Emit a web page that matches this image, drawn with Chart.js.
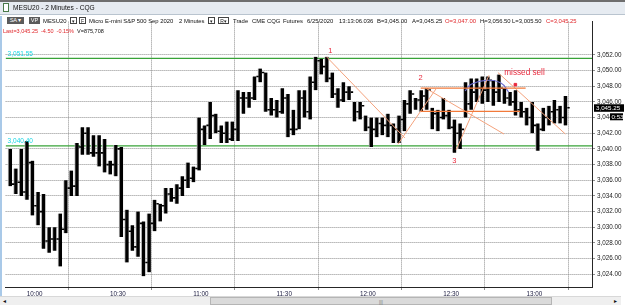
<!DOCTYPE html>
<html><head><meta charset="utf-8">
<script src="https://cdn.jsdelivr.net/npm/chart.js@4.4.1/dist/chart.umd.min.js"></script>
<style>
body{margin:0;width:625px;height:307px;overflow:hidden;background:#fff;font-family:"Liberation Sans",Arial,sans-serif;position:relative}
#wrap{position:absolute;left:0;top:16px;width:625px;height:291px}
.t{position:absolute;font-size:5.9px;white-space:nowrap;color:#111;line-height:8px;z-index:5}
.red{color:#e0262a}
.box{position:absolute;height:7px;line-height:7px;font-size:5.6px;text-align:center;z-index:5;box-sizing:border-box}
.dark{background:#5b5b5b;color:#fff}
.dd{border:1px solid #444;background:#fff;color:#222;font-size:5px}
#row3{position:absolute;left:3px;top:27px;font-size:5.5px;line-height:8px;white-space:nowrap;z-index:5;color:#111}
#row3 span{margin-right:3px}
#titlebar{position:absolute;left:0;top:0;width:625px;height:15px;background:#e6ebf1;border-top:2px solid #6e6e6e;box-sizing:border-box;border-bottom:1px solid #b9c4cf;z-index:4}
#leftstrip{position:absolute;left:0;top:16px;width:2px;height:280px;background:#a9c9e8;z-index:4}
#scroll{position:absolute;left:0;top:296px;width:621px;height:9px;background:#efefef;border-top:1px solid #d8d8d8;box-sizing:border-box;z-index:4}
#thumb{position:absolute;left:210px;top:0px;width:342px;height:8px;background:#dadada;border:1px solid #b5b5b5;box-sizing:border-box}
</style></head>
<body>
<div id="wrap"><canvas id="c" width="625" height="291"></canvas></div>
<div id="titlebar"></div>
<div class="box" style="left:3px;top:3px;width:6px;height:9px;border:1px solid #4a7a4a;background:#fff;z-index:6"></div>
<div class="t" style="left:13px;top:3.5px;font-size:6.6px;z-index:6">MESU20 - 2 Minutes - CQG</div>
<div id="leftstrip"></div>

<div class="box dark" style="left:7px;top:17px;width:17px">SA ▾</div>
<div class="box dark" style="left:29px;top:17px;width:11px">VP</div>
<div class="t" style="left:43px;top:16.5px">MESU20</div>
<div class="box dd" style="left:70px;top:17px;width:7px">▾</div>
<div class="box dd" style="left:79px;top:17px;width:7px">F</div>
<div class="t" style="left:89px;top:16.5px">Micro E-mini S&amp;P 500 Sep 2020</div>
<div class="t" style="left:179px;top:16.5px">2 Minutes</div>
<div class="box dd" style="left:208px;top:17px;width:7px">▾</div>
<div class="box dd" style="left:218px;top:17px;width:11px">R▾</div>
<div class="t" style="left:233px;top:16.5px">Trade</div>
<div class="t" style="left:252px;top:16.5px">CME</div>
<div class="t" style="left:267px;top:16.5px">CQG</div>
<div class="t" style="left:283px;top:16.5px">Futures</div>
<div class="t" style="left:307px;top:16.5px">6/25/2020</div>
<div class="t" style="left:339px;top:16.5px">13:13:06.036</div>
<div class="t" style="left:377px;top:16.5px">B=3,045.00</div>
<div class="t" style="left:412px;top:16.5px">A=3,045.25</div>
<div class="t red" style="left:445px;top:16.5px">O=3,047.00</div>
<div class="t" style="left:480px;top:16.5px">H=3,056.50</div>
<div class="t" style="left:512px;top:16.5px">L=3,005.50</div>
<div class="t red" style="left:546px;top:16.5px">C=3,045.25</div>

<div id="row3"><span class="red">Last=3,045.25</span><span class="red">-4.50</span><span class="red">-0.15%</span><span>V=875,708</span></div>

<div id="scroll"><div class="t" style="left:3px;top:0px;font-size:6px">◂</div><div id="thumb"><div class="t" style="left:168px;top:0px;font-size:5px;color:#777">|||</div></div><div class="t" style="left:614px;top:0px;font-size:6px">▸</div></div>

<script>
// ---- data ----
const times = [
"9:54","9:56","9:58",
"10:00","10:02","10:04","10:06","10:08","10:10","10:12","10:14","10:16","10:18",
"10:20","10:22","10:24","10:26","10:28","10:30","10:32","10:34","10:36","10:38",
"10:40","10:42","10:44","10:46","10:48","10:50","10:52","10:54","10:56","10:58",
"11:00","11:02","11:04","11:06","11:08","11:10","11:12","11:14","11:16","11:18",
"11:20","11:22","11:24","11:26","11:28","11:30","11:32","11:34","11:36","11:38",
"11:40","11:42","11:44","11:46","11:48","11:50","11:52","11:54","11:56","11:58",
"12:00","12:02","12:04","12:06","12:08","12:10","12:12","12:14","12:16","12:18",
"12:20","12:22","12:24","12:26","12:28","12:30","12:32","12:34","12:36","12:38",
"12:40","12:42","12:44","12:46","12:48","12:50","12:52","12:54","12:56","12:58",
"13:00","13:02","13:04","13:06","13:08","13:10","13:12","13:14"
].slice(0,101);

const highs = [
3040.0,3037.5,3040.0,3041.0,3038.5,3034.5,3034.25,3030.0,3030.0,3031.75,
3036.0,3037.25,3040.75,3042.75,3042.75,3041.75,3041.75,3041.25,3038.5,3040.5,
3040.25,3032.25,3030.25,3032.0,3030.75,3031.75,3033.5,3033.0,3035.0,3035.0,
3035.5,3036.5,3038.25,3037.75,3044.0,3043.0,3046.0,3044.5,3043.0,3043.5,
3043.5,3047.5,3047.25,3047.25,3049.25,3050.25,3049.75,3046.5,3046.25,3047.75,
3047.0,3045.0,3047.5,3047.5,3049.25,3051.75,3051.5,3051.75,3049.75,3047.75,
3048.5,3048.0,3046.0,3046.0,3044.25,3044.0,3044.0,3044.0,3044.5,3043.25,
3044.25,3046.25,3047.5,3046.5,3047.5,3047.75,3045.25,3045.0,3046.5,3045.0,
3043.75,3043.25,3048.5,3049.0,3049.0,3049.25,3049.25,3048.75,3049.5,3047.75,
3047.25,3047.5,3046.0,3045.25,3046.0,3043.25,3045.25,3045.5,3046.25,3045.5,
3046.75];
const lows = [
3035.25,3034.25,3034.0,3033.5,3031.5,3030.25,3027.25,3026.75,3027.0,3025.0,
3029.25,3034.0,3034.0,3039.25,3039.25,3039.0,3037.75,3037.0,3036.75,3036.5,
3028.75,3025.5,3027.0,3026.25,3023.75,3024.25,3029.5,3030.75,3031.75,3033.25,
3033.0,3034.0,3035.0,3035.75,3037.25,3040.5,3041.25,3042.0,3040.75,3040.75,
3041.0,3041.0,3044.5,3045.25,3046.25,3048.5,3044.75,3044.25,3044.0,3044.5,
3041.5,3041.75,3042.5,3044.0,3043.75,3047.5,3049.5,3048.5,3046.5,3045.25,
3046.0,3046.25,3043.5,3043.75,3042.25,3040.25,3041.5,3041.75,3041.5,3040.75,
3040.75,3042.25,3044.5,3045.0,3044.75,3045.0,3042.5,3042.25,3043.75,3042.5,
3039.5,3040.0,3044.0,3045.0,3046.0,3045.75,3046.0,3045.5,3046.0,3045.75,
3045.5,3044.25,3044.0,3043.0,3042.0,3039.75,3042.25,3043.0,3043.25,3043.25,
3043.0];
const closes = [
3035.5,3035.75,3034.5,3038.25,3032.75,3032.0,3028.25,3028.5,3028.5,3029.75,
3035.0,3035.25,3040.25,3042.0,3039.5,3039.5,3039.5,3038.0,3038.0,3040.0,
3031.0,3029.5,3027.5,3030.5,3025.5,3030.5,3033.0,3032.75,3034.25,3033.75,
3035.0,3036.0,3036.25,3037.5,3042.5,3043.0,3044.25,3042.25,3042.0,3041.25,
3042.5,3046.5,3046.5,3046.5,3049.25,3049.75,3045.0,3045.0,3044.75,3046.5,
3042.5,3042.5,3046.5,3044.75,3048.5,3051.25,3050.5,3049.0,3047.0,3046.25,
3047.25,3047.25,3044.75,3045.5,3042.75,3042.5,3043.25,3043.0,3043.0,3042.5,
3043.75,3045.75,3047.0,3046.25,3046.75,3047.5,3044.5,3044.0,3044.25,3042.75,
3042.0,3042.5,3045.75,3047.25,3047.75,3047.5,3048.75,3047.25,3047.75,3046.5,
3046.0,3045.0,3044.75,3044.0,3043.0,3042.5,3044.0,3044.75,3045.0,3044.0,
3045.25];

const xTickLabels = ["10:00","10:30","11:00","11:30","12:00","12:30","13:00"];
const yTickValues = [3024,3026,3028,3030,3032,3034,3036,3038,3040,3042,3044,3046,3048,3050,3052];
const levelValues = [3051.55, 3040.40];
const levelLabels = ["3,051.55","3,040.40"];
const lastPrice = 3045.25;
const barTimer = "0:53";

// drawn study lines (minutes after midnight, price)
const lineA = [[708.0,3051.75],[736.2,3041.4]];
const lineB = [[733.7,3040.6],[747.6,3047.75]];
const lineC = [[741.9,3047.75],[779.7,3047.75]];
const lineD = [[741.9,3044.8],[777.7,3044.8]];
const lineE = [[743.7,3047.75],[771.9,3041.9]];
const lineF = [[754.7,3039.9],[766.5,3049.4]];
const lineG = [[769.7,3049.75],[794.0,3041.9]];
const arcPts = [[757.9,3047.4],[760.1,3048.25],[765.4,3048.75],[770.8,3048.4],[773.6,3047.25]];
const missedMark = [[776.0,3048.2]];
const noteTexts = ["1","2","3","missed sell"];
const noteTimes = [709.4,741.9,754.0,772.0];
const notePrices = [3052.5,3049.1,3038.5,3049.75];

// ---- chart ----
function toMin(s){const p=s.split(':').map(Number);return p[0]*60+p[1];}
function fmt(v){return v.toLocaleString('en-US',{minimumFractionDigits:2,maximumFractionDigits:2});}
const X_MIN=592.4, X_MAX=803.6, Y_MIN=3022.375, Y_MAX=3056.25;
const pts = a => a.map(p=>({x:p[0],y:p[1]}));

Chart.defaults.font.family='"Liberation Sans", Arial, sans-serif';

const orangeThin = {type:'line',borderColor:'#f4a27c',borderWidth:1,pointRadius:0,order:1,showLine:true};
const orangeH = {type:'line',borderColor:'#f27a3a',borderWidth:1.3,pointRadius:0,order:1,showLine:true};

const overlay = {
  id:'overlay',
  afterDatasetsDraw(chart){
    const {ctx, chartArea:ca, scales:{x,y}} = chart;
    ctx.save();
    ctx.font='6.5px "Liberation Sans", Arial';
    ctx.fillStyle='#17d6e3'; ctx.textAlign='left'; ctx.textBaseline='bottom';
    levelValues.forEach((v,k)=>ctx.fillText(levelLabels[k], ca.left+2, y.getPixelForValue(v)-1));
    ctx.fillStyle='#e8283c'; ctx.textBaseline='middle';
    noteTexts.forEach((s,k)=>{
      ctx.font=(s.length>1?'8.2px':'7.5px')+' "Liberation Sans", Arial';
      ctx.textAlign = s.length>1?'left':'center';
      ctx.fillText(s, x.getPixelForValue(noteTimes[k]), y.getPixelForValue(notePrices[k]));
    });
    const py = y.getPixelForValue(lastPrice);
    ctx.fillStyle='#000'; ctx.fillRect(ca.right+2, py-3.5, 30, 7.5);
    ctx.fillRect(ca.right+18, py+5.5, 13, 7);
    ctx.fillStyle='#fff'; ctx.textAlign='left'; ctx.font='6.2px "Liberation Sans", Arial';
    ctx.fillText(fmt(lastPrice), ca.right+4, py+0.3);
    ctx.fillText(barTimer, ca.right+19.5, py+9.2);
    ctx.restore();
  }
};

new Chart(document.getElementById('c'), {
  type:'bar',
  data:{datasets:[
    {type:'bar', data: times.map((s,i)=>({x:toMin(s), y:[lows[i],highs[i]]})),
     backgroundColor:'#000', borderColor:'#b3b3b3', borderWidth:{left:1,right:0,top:0,bottom:0},
     borderSkipped:false, barThickness:4, grouped:false, order:3},
    {type:'line', data: times.map((s,i)=>({x:toMin(s)+1.14, y:closes[i]})), showLine:false,
     pointStyle:'line', pointRadius:1.2, pointBorderWidth:1.6, pointBorderColor:'#000', order:2},
    {type:'line', data:[{x:X_MIN,y:levelValues[0]},{x:X_MAX,y:levelValues[0]}], borderColor:'#38a338', borderWidth:1.2, pointRadius:0, order:5},
    {type:'line', data:[{x:X_MIN,y:levelValues[1]},{x:X_MAX,y:levelValues[1]}], borderColor:'#38a338', borderWidth:1.2, pointRadius:0, order:5},
    Object.assign({data:pts(lineA)},orangeThin),
    Object.assign({data:pts(lineB)},orangeThin),
    Object.assign({data:pts(lineC)},orangeH),
    Object.assign({data:pts(lineD)},orangeH),
    Object.assign({data:pts(lineE)},orangeThin),
    Object.assign({data:pts(lineF)},orangeThin),
    Object.assign({data:pts(lineG)},orangeThin),
    {type:'line', data:pts(arcPts), borderColor:'#6f6fd0', borderWidth:1.1, pointRadius:0, tension:0.45, order:1},
    {type:'line', data:pts(missedMark), showLine:false, pointStyle:'rect', pointRadius:1.8, pointBackgroundColor:'#e8283c', pointBorderColor:'#e8283c', order:0}
  ]},
  options:{
    responsive:false, maintainAspectRatio:false, animation:false, devicePixelRatio:1, events:[],
    layout:{padding:0},
    plugins:{legend:{display:false}, tooltip:{enabled:false}},
    scales:{
      x:{type:'linear', min:X_MIN, max:X_MAX, offset:false, position:'bottom',
         grid:{color:'#8e8e8e', lineWidth:1, tickLength:3, drawTicks:true},
         border:{display:true, color:'#262626', width:1, dash:[1,1]},
         ticks:{autoSkip:false, maxRotation:0, align:'start', padding:0.5, color:'#1c1c40', font:{size:6.3},
                callback:(v,i)=>xTickLabels[i]},
         afterBuildTicks:s=>{s.ticks=xTickLabels.map(l=>({value:toMin(l)}));},
         afterFit:s=>{s.height=20; s.paddingLeft=0; s.paddingRight=0;}},
      y:{type:'linear', position:'right', min:Y_MIN, max:Y_MAX,
         grid:{color:'#8e8e8e', lineWidth:1, tickLength:3},
         border:{display:true, color:'#262626', width:1, dash:[1,1]},
         ticks:{autoSkip:false, color:'#1a1a1a', font:{size:6.3}, padding:2, callback:v=>fmt(v)},
         afterBuildTicks:s=>{s.ticks=yTickValues.map(v=>({value:v}));},
         afterFit:s=>{s.width=33; s.paddingTop=0; s.paddingBottom=0;}}
    }
  },
  plugins:[overlay]
});
</script>
</body></html>
